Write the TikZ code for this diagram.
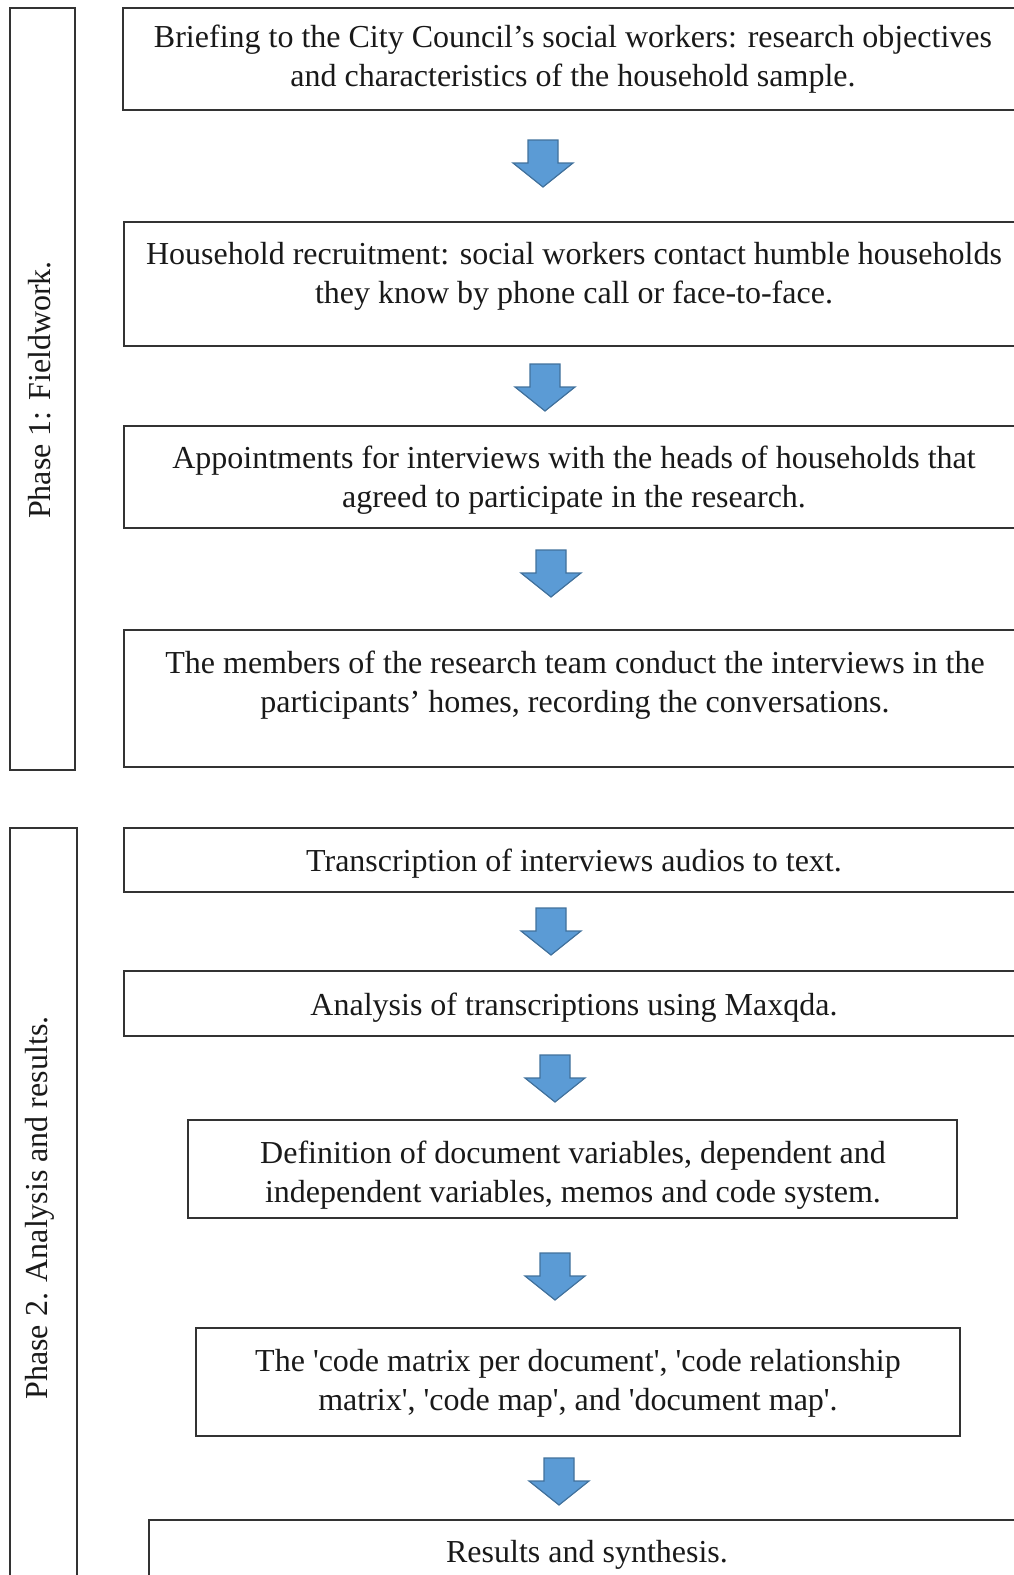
\documentclass[tikz,border=0pt]{standalone}
\usepackage{fontspec}
\setmainfont{Liberation Serif}
\newcommand\sq{\textquotesingle}
\definecolor{arrfill}{RGB}{91,155,213}
\definecolor{arrdraw}{RGB}{65,113,156}
\begin{document}
\begin{tikzpicture}[x=1pt,y=-1pt,
  boxstyle/.style={draw=black!80,line width=1.4pt,inner sep=0pt},
  txt/.style={align=center,font=\fontsize{32}{39}\selectfont,inner sep=0pt,text=black!90},
  phase/.style={rotate=90,font=\fontsize{32}{39}\selectfont,inner sep=0pt,text=black!90},
  arrowstyle/.style={fill=arrfill,draw=arrdraw,line width=1.2pt,line join=miter},
  downarrow/.pic={\draw[arrowstyle] (-15,0) -- (15,0) -- (15,23) -- (30,23) -- (0,47) -- (-30,23) -- (-15,23) -- cycle;}
]
\useasboundingbox (0,0) rectangle (1014,1575);
\clip (0,0) rectangle (1014,1575);
% phase frames
\draw[boxstyle] (10,8) rectangle (75,770);
\draw[boxstyle] (10,828) rectangle (77,1600);
\node[phase] (p1) at (40,390) {Phase 1: Fieldwork.};
\node[phase] (p2) at (40,1208) {Phase 2. Analysis and results.};
% boxes
\draw[boxstyle] (123,8) rectangle (1030,110);
\draw[boxstyle] (124,222) rectangle (1030,346);
\draw[boxstyle] (124,426) rectangle (1030,528);
\draw[boxstyle] (124,630) rectangle (1030,767);
\draw[boxstyle] (124,828) rectangle (1030,892);
\draw[boxstyle] (124,971) rectangle (1030,1036);
\draw[boxstyle] (188,1120) rectangle (957,1218);
\draw[boxstyle] (196,1328) rectangle (960,1436);
\draw[boxstyle] (149,1520) rectangle (1030,1600);
% texts
\node[txt] (t1) at (573,59.5) {Briefing to the City Council’s social workers: research objectives\\and characteristics of the household sample.};
\node[txt] (t2) at (574,276.5) {Household recruitment: social workers contact humble households\\they know by phone call or face-to-face.};
\node[txt] (t3) at (574,480.5) {Appointments for interviews with the heads of households that\\agreed to participate in the research.};
\node[txt] (t4) at (575,685.5) {The members of the research team conduct the interviews in the\\participants’ homes, recording the conversations.};
\node[txt] (t5) at (574,863.5) {Transcription of interviews audios to text.};
\node[txt] (t6) at (574,1007.5) {Analysis of transcriptions using Maxqda.};
\node[txt] (t7) at (573,1175.5) {Definition of document variables, dependent and\\independent variables, memos and code system.};
\node[txt] (t8) at (578,1383.5) {The \sq code matrix per document\sq, \sq code relationship\\matrix\sq, \sq code map\sq, and \sq document map\sq.};
\node[txt] (t9) at (587,1554.5) {Results and synthesis.};
% block arrows
\pic at (543,140) {downarrow};
\pic at (545,364) {downarrow};
\pic at (551,550) {downarrow};
\pic at (551,908) {downarrow};
\pic at (555,1055) {downarrow};
\pic at (555,1253) {downarrow};
\pic at (559,1458) {downarrow};
\end{tikzpicture}
\end{document}
